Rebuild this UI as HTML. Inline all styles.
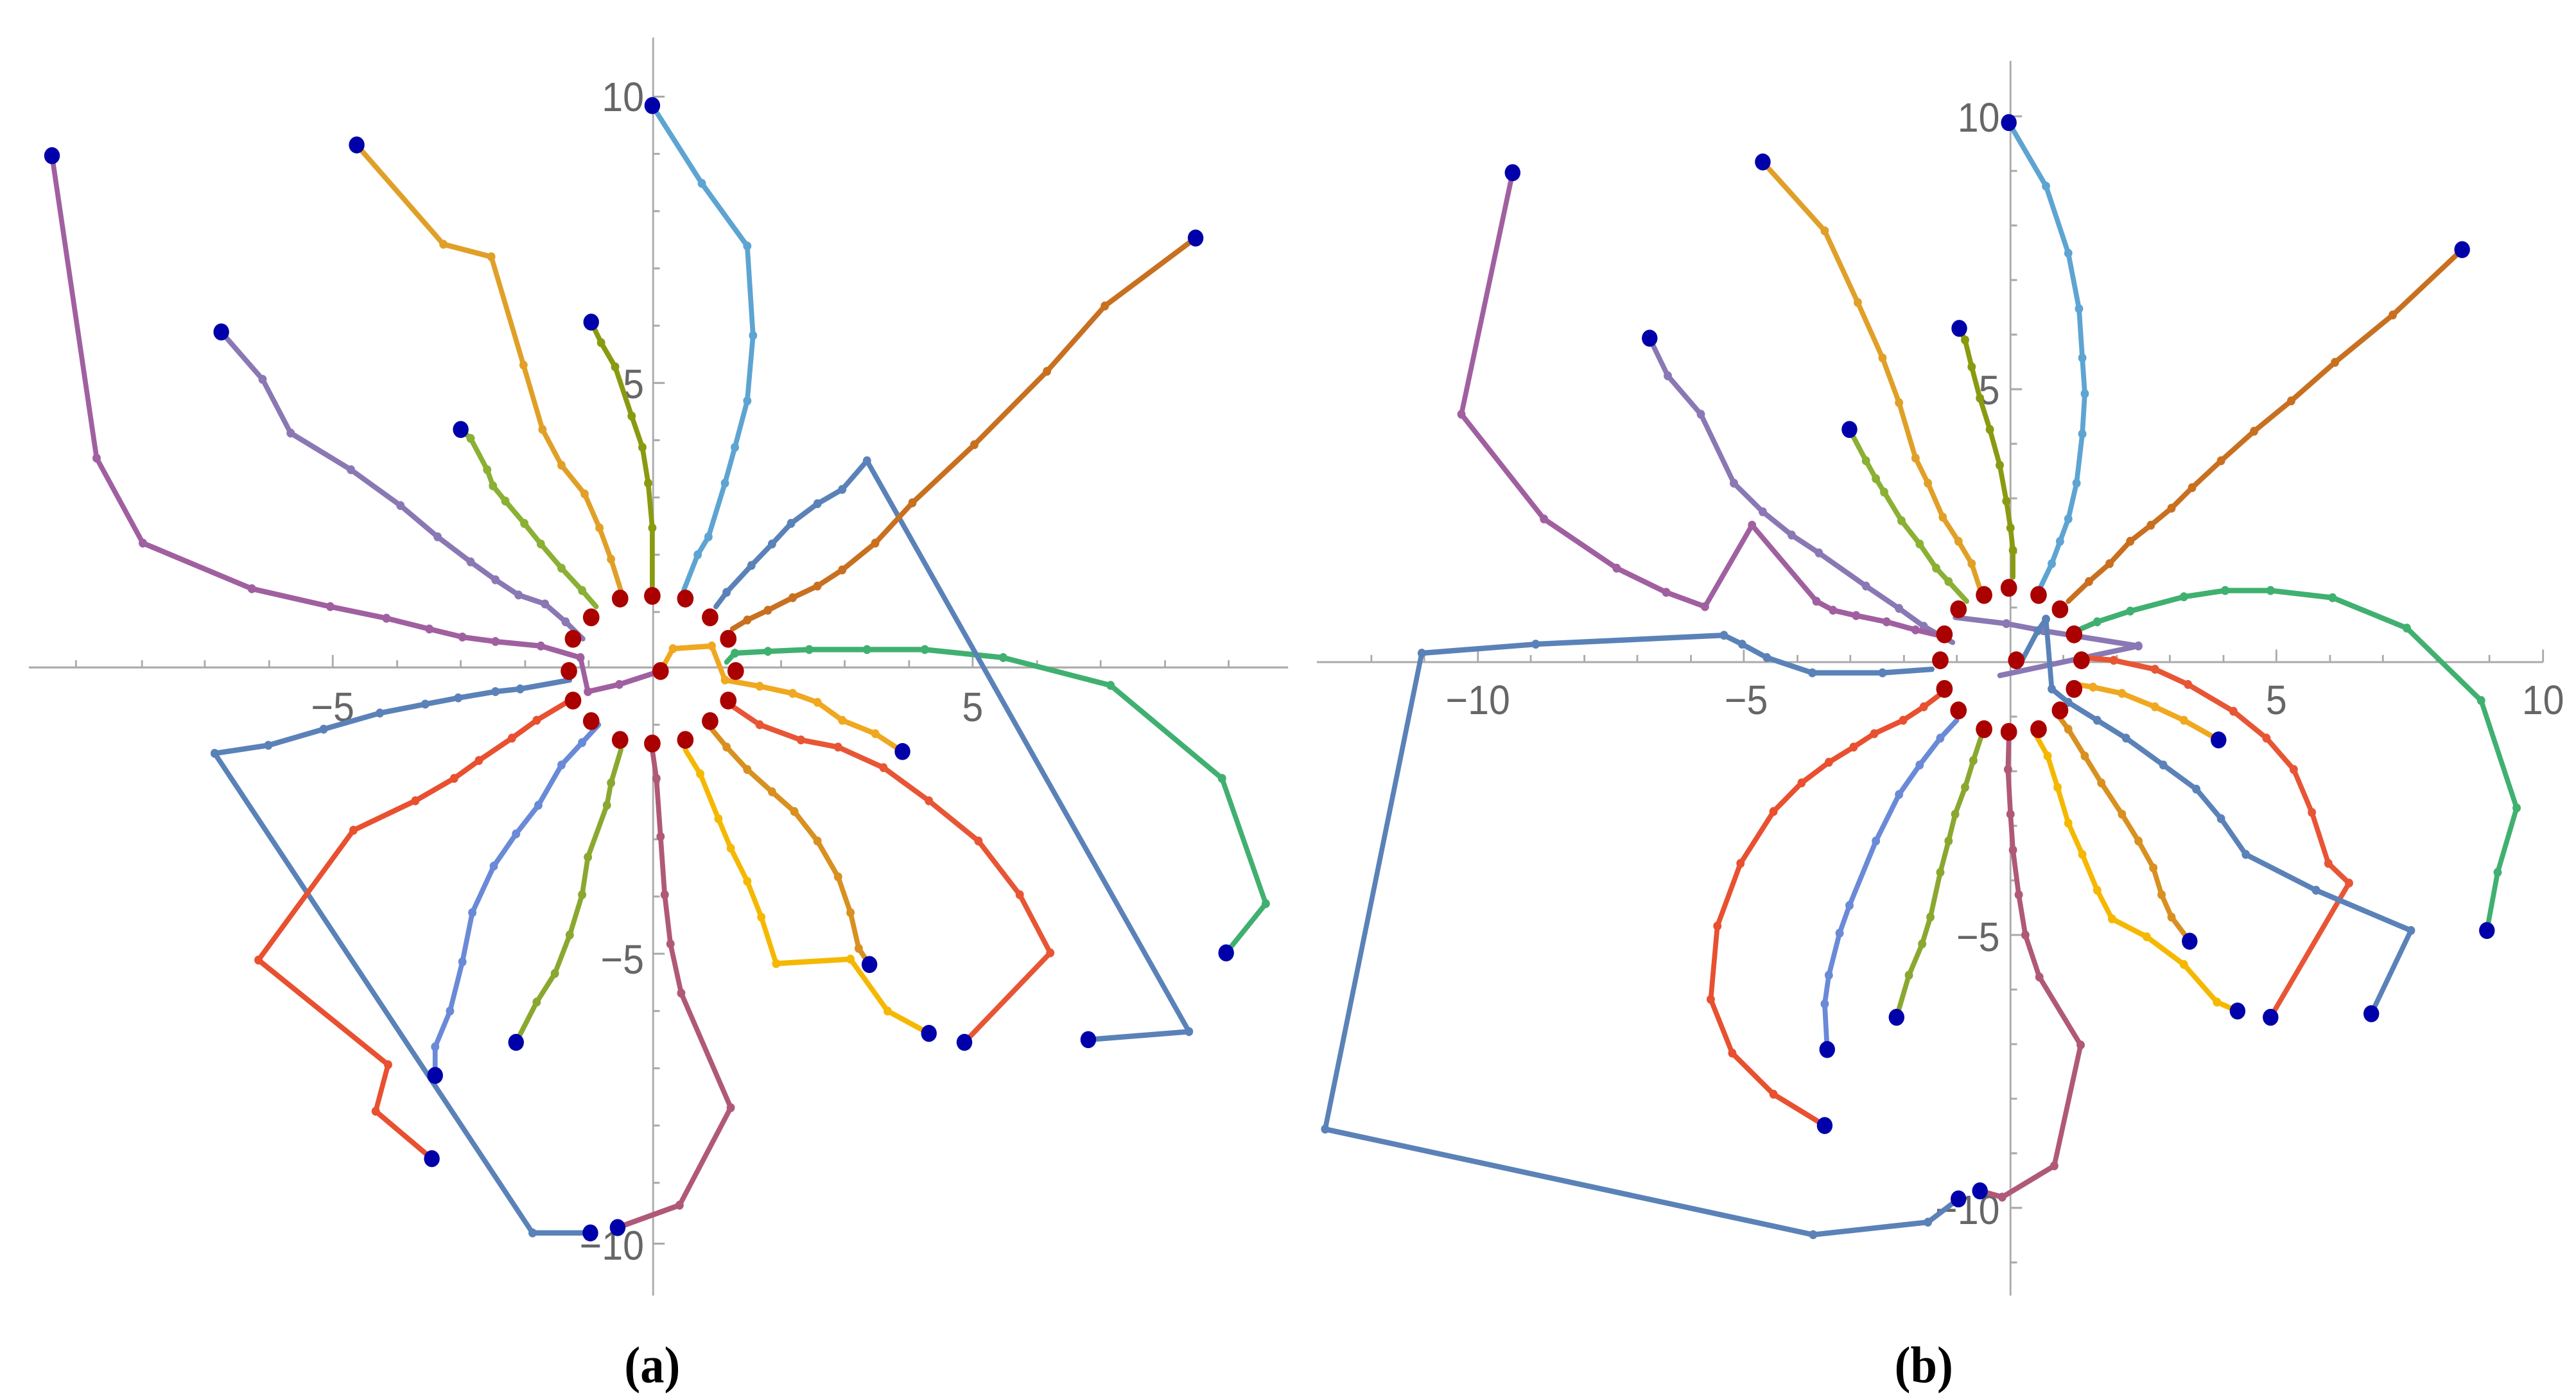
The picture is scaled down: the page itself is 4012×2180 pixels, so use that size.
<!DOCTYPE html>
<html><head><meta charset="utf-8"><style>html,body{margin:0;padding:0;background:#fff}svg{display:block}</style></head>
<body>
<svg width="4012" height="2180" viewBox="0 0 1568 852" xmlns="http://www.w3.org/2000/svg">
<defs>
<marker id="v" markerUnits="userSpaceOnUse" markerWidth="14" markerHeight="14" refX="7" refY="7"><circle cx="7" cy="7" r="5" fill="context-stroke"/></marker>
</defs>
<style>
.p{fill:none;stroke-width:6;stroke-linejoin:round;stroke-linecap:round}
.ax{stroke:#aaa;stroke-width:2.2;fill:none}
.t{font-family:"Liberation Sans",sans-serif;font-size:46px;fill:#666}
.cap{font-family:"Liberation Serif",serif;font-size:58px;font-weight:bold;fill:#000}
</style>
<!-- Panel A -->
<g transform="scale(0.5026,0.5445)">
<path class="ax" d="M35 746H1560M791 42V1448"/>
<path class="ax" d="M92 746v-8M172 746v-8M248 746v-8M326 746v-8M403 746v-14M481 746v-8M558 746v-8M636 746v-8M713 746v-8M869 746v-8M946 746v-8M1023 746v-8M1101 746v-8M1178 746v-14M1256 746v-8M1333 746v-8M1411 746v-8M1488 746v-8
M791 108h14M791 172h8M791 236h8M791 300h8M791 364h8M791 428h14M791 492h8M791 556h8M791 620h8M791 684h8M791 810h8M791 874h8M791 938h8M791 1002h8M791 1066h14M791 1130h8M791 1194h8M791 1258h8M791 1322h8M791 1390h14"/>
<text class="t" x="780" y="124" text-anchor="end">10</text>
<text class="t" x="780" y="445" text-anchor="end">5</text>
<text class="t" x="403" y="806" text-anchor="middle">−5</text>
<text class="t" x="1178" y="806" text-anchor="middle">5</text>
<text class="t" x="780" y="1088" text-anchor="end">−5</text>
<text class="t" x="780" y="1408" text-anchor="end">−10</text>
<g marker-mid="url(#v)">
<polyline class="p" stroke="#5da4d2" points="828,660 845,620 858,600 878,540 890,500 905,448 912,375 905,275 850,205 790,118"/>
<polyline class="p" stroke="#8a9a10" points="790,655 790,590 785,540 778,500 765,465 745,410 728,383 716,360"/>
<polyline class="p" stroke="#e0a028" points="752,660 740,625 726,590 708,552 680,520 657,480 634,408 595,287 537,273 432,162"/>
<polyline class="p" stroke="#8ab034" points="722,678 705,660 680,635 655,608 635,585 612,560 597,543 590,525 570,490 558,480"/>
<polyline class="p" stroke="#8a78b4" points="706,714 685,695 660,675 628,665 600,648 570,628 530,600 485,565 425,525 352,484 318,424 268,371"/>
<polyline class="p" stroke="#a060a0" points="800,750 750,765 712,773 703,735 655,722 600,717 560,712 520,703 468,691 400,678 305,658 173,607 117,512 63,174"/>
<polyline class="p" stroke="#5a82b8" points="690,760 630,770 600,773 555,780 515,787 460,797 392,815 325,833 260,842 645,1378 715,1378"/>
<polyline class="p" stroke="#e85030" points="690,783 650,805 620,825 580,850 550,870 503,895 428,928 313,1073 470,1190 455,1242 523,1295"/>
<polyline class="p" stroke="#6a8ad8" points="725,810 705,830 680,855 652,900 625,932 598,968 572,1020 560,1075 545,1130 527,1170 527,1202"/>
<polyline class="p" stroke="#8aa830" points="752,838 740,875 735,900 712,958 705,1000 690,1045 672,1088 650,1120 625,1165"/>
<polyline class="p" stroke="#b05878" points="790,838 795,870 800,935 805,1000 812,1055 825,1110 885,1238 823,1347 748,1372"/>
<polyline class="p" stroke="#f5b800" points="830,838 848,865 870,915 885,948 905,985 922,1025 940,1077 1030,1072 1075,1130 1125,1155"/>
<polyline class="p" stroke="#d89020" points="862,815 880,835 905,860 935,885 962,907 990,940 1015,980 1030,1020 1040,1060 1053,1078"/>
<polyline class="p" stroke="#e85535" points="888,790 920,810 970,827 1015,835 1070,858 1125,895 1185,940 1235,1000 1272,1065 1168,1165"/>
<polyline class="p" stroke="#f0a820" points="800,750 815,725 862,722 878,760 920,767 960,775 990,785 1020,805 1060,820 1093,840"/>
<polyline class="p" stroke="#40b070" points="880,740 890,730 930,728 980,726 1050,726 1120,726 1215,735 1345,766 1480,870 1533,1010 1485,1065"/>
<polyline class="p" stroke="#5a82b8" points="867,678 880,662 910,632 935,608 958,585 990,563 1020,547 1050,515 1440,1153 1318,1162"/>
<polyline class="p" stroke="#c87020" points="887,703 905,693 930,682 960,668 990,655 1020,637 1060,607 1105,562 1180,497 1268,415 1338,342 1448,266"/>
</g>
<g fill="#0000aa">
<circle cx="790" cy="118" r="9.5"/><circle cx="716" cy="360" r="9.5"/><circle cx="432" cy="162" r="9.5"/><circle cx="558" cy="480" r="9.5"/><circle cx="268" cy="371" r="9.5"/><circle cx="63" cy="174" r="9.5"/><circle cx="715" cy="1378" r="9.5"/><circle cx="523" cy="1295" r="9.5"/><circle cx="527" cy="1202" r="9.5"/><circle cx="625" cy="1165" r="9.5"/><circle cx="748" cy="1372" r="9.5"/><circle cx="1125" cy="1155" r="9.5"/><circle cx="1053" cy="1078" r="9.5"/><circle cx="1168" cy="1165" r="9.5"/><circle cx="1093" cy="840" r="9.5"/><circle cx="1485" cy="1065" r="9.5"/><circle cx="1318" cy="1162" r="9.5"/><circle cx="1448" cy="266" r="9.5"/>
</g>
<g fill="#aa0000">
<circle cx="751" cy="669" r="10"/><circle cx="790" cy="666" r="10"/><circle cx="830" cy="669" r="10"/><circle cx="860" cy="690" r="10"/><circle cx="882" cy="714" r="10"/><circle cx="891" cy="750" r="10"/><circle cx="882" cy="783" r="10"/><circle cx="860" cy="806" r="10"/><circle cx="830" cy="827" r="10"/><circle cx="790" cy="831" r="10"/><circle cx="751" cy="827" r="10"/><circle cx="716" cy="806" r="10"/><circle cx="694" cy="783" r="10"/><circle cx="689" cy="750" r="10"/><circle cx="694" cy="714" r="10"/><circle cx="716" cy="690" r="10"/><circle cx="800" cy="750" r="10"/>
</g>
<text class="cap" x="790" y="1545" text-anchor="middle">(a)</text>
</g>
<!-- Panel B -->
<g transform="translate(784,0) scale(0.5026,0.5445)">
<path class="ax" d="M35 740H1520M875 68V1448"/>
<path class="ax" d="M101 740v-8M165 740v-8M230 740v-14M294 740v-8M359 740v-8M423 740v-8M488 740v-8M552 740v-14M617 740v-8M681 740v-8M746 740v-8M810 740v-8M939 740v-8M1004 740v-8M1068 740v-8M1133 740v-8M1197 740v-14M1262 740v-8M1326 740v-8M1391 740v-8M1455 740v-8M1520 740v-14
M875 130h14M875 191h8M875 252h8M875 313h8M875 374h8M875 435h14M875 496h8M875 557h8M875 618h8M875 679h8M875 801h8M875 862h8M875 923h8M875 984h8M875 1045h14M875 1106h8M875 1167h8M875 1228h8M875 1289h8M875 1350h14M875 1411h8"/>
<text class="t" x="862" y="147" text-anchor="end">10</text>
<text class="t" x="862" y="452" text-anchor="end">5</text>
<text class="t" x="230" y="798" text-anchor="middle">−10</text>
<text class="t" x="555" y="798" text-anchor="middle">−5</text>
<text class="t" x="1197" y="798" text-anchor="middle">5</text>
<text class="t" x="1520" y="798" text-anchor="middle">10</text>
<text class="t" x="862" y="1063" text-anchor="end">−5</text>
<text class="t" x="862" y="1368" text-anchor="end">−10</text>
<g marker-mid="url(#v)">
<polyline class="p" stroke="#5da4d2" points="912,655 925,630 935,605 945,580 955,540 962,485 965,440 962,400 958,345 945,283 918,208 873,137"/>
<polyline class="p" stroke="#8a9a10" points="878,645 878,615 875,590 870,560 862,520 850,480 838,445 828,410 820,380 813,367"/>
<polyline class="p" stroke="#e0a028" points="838,658 828,630 812,605 793,578 775,540 760,512 740,450 720,400 690,338 650,258 575,181"/>
<polyline class="p" stroke="#8ab034" points="822,672 800,650 785,635 765,608 743,582 722,550 712,535 700,515 680,480"/>
<polyline class="p" stroke="#8a78b4" points="805,718 770,700 740,680 700,655 643,618 610,598 575,572 540,540 500,463 460,420 438,378"/>
<polyline class="p" stroke="#a060a0" points="797,712 760,704 725,695 688,688 660,682 640,672 562,587 505,678 458,662 398,635 310,580 210,463 272,193"/>
<polyline class="p" stroke="#8a78b4" points="808,690 870,697 915,705 1030,722 862,755"/>
<polyline class="p" stroke="#5a82b8" points="780,748 720,752 635,752 580,735 550,720 528,710 300,720 162,730 45,1262 636,1380 775,1366 812,1340"/>
<polyline class="p" stroke="#e85030" points="790,776 770,790 745,805 710,820 685,835 655,852 622,875 588,907 548,965 520,1035 512,1117 538,1177 588,1223 650,1258"/>
<polyline class="p" stroke="#6a8ad8" points="810,805 790,825 765,855 740,888 712,940 680,1012 668,1043 655,1090 650,1122 653,1173"/>
<polyline class="p" stroke="#8aa830" points="840,822 830,850 820,880 808,910 800,940 790,975 778,1025 768,1055 752,1090 737,1137"/>
<polyline class="p" stroke="#b05878" points="873,826 872,860 875,910 878,950 885,1000 893,1045 910,1092 960,1168 928,1303 865,1338 838,1331"/>
<polyline class="p" stroke="#f5b800" points="906,822 920,845 932,880 945,920 962,955 980,995 998,1027 1040,1047 1085,1078 1125,1120 1150,1130"/>
<polyline class="p" stroke="#d89020" points="933,800 945,815 965,845 985,875 1010,910 1030,940 1048,970 1058,1000 1070,1025 1092,1052"/>
<polyline class="p" stroke="#e85535" points="965,735 1000,738 1050,748 1090,765 1145,795 1185,825 1218,860 1240,908 1260,965 1285,987 1190,1137"/>
<polyline class="p" stroke="#f0a820" points="955,765 975,768 1010,775 1050,790 1085,805 1127,827"/>
<polyline class="p" stroke="#40b070" points="955,705 980,695 1020,683 1085,667 1135,660 1190,660 1265,668 1355,702 1445,783 1488,903 1465,975 1452,1040"/>
<polyline class="p" stroke="#5a82b8" points="885,745 908,705 918,692 925,770 945,785 980,805 1015,825 1060,855 1100,882 1130,915 1160,955 1245,995 1360,1040 1312,1133"/>
<polyline class="p" stroke="#c87020" points="945,672 970,650 995,630 1020,605 1045,587 1070,568 1095,545 1130,515 1170,482 1215,448 1268,405 1338,352 1422,279"/>
</g>
<g fill="#0000aa">
<circle cx="873" cy="137" r="9.5"/><circle cx="813" cy="367" r="9.5"/><circle cx="575" cy="181" r="9.5"/><circle cx="680" cy="480" r="9.5"/><circle cx="438" cy="378" r="9.5"/><circle cx="272" cy="193" r="9.5"/><circle cx="812" cy="1340" r="9.5"/><circle cx="650" cy="1258" r="9.5"/><circle cx="653" cy="1173" r="9.5"/><circle cx="737" cy="1137" r="9.5"/><circle cx="838" cy="1331" r="9.5"/><circle cx="1150" cy="1130" r="9.5"/><circle cx="1092" cy="1052" r="9.5"/><circle cx="1190" cy="1137" r="9.5"/><circle cx="1127" cy="827" r="9.5"/><circle cx="1452" cy="1040" r="9.5"/><circle cx="1312" cy="1133" r="9.5"/><circle cx="1422" cy="279" r="9.5"/>
</g>
<g fill="#aa0000">
<circle cx="843" cy="665" r="10"/><circle cx="873" cy="657" r="10"/><circle cx="909" cy="665" r="10"/><circle cx="935" cy="681" r="10"/><circle cx="952" cy="709" r="10"/><circle cx="961" cy="738" r="10"/><circle cx="952" cy="770" r="10"/><circle cx="935" cy="794" r="10"/><circle cx="909" cy="815" r="10"/><circle cx="873" cy="818" r="10"/><circle cx="843" cy="815" r="10"/><circle cx="812" cy="794" r="10"/><circle cx="795" cy="770" r="10"/><circle cx="790" cy="738" r="10"/><circle cx="795" cy="709" r="10"/><circle cx="812" cy="681" r="10"/><circle cx="882" cy="738" r="10"/>
</g>
<text class="cap" x="770" y="1545" text-anchor="middle">(b)</text>
</g>
</svg>
</body></html>
